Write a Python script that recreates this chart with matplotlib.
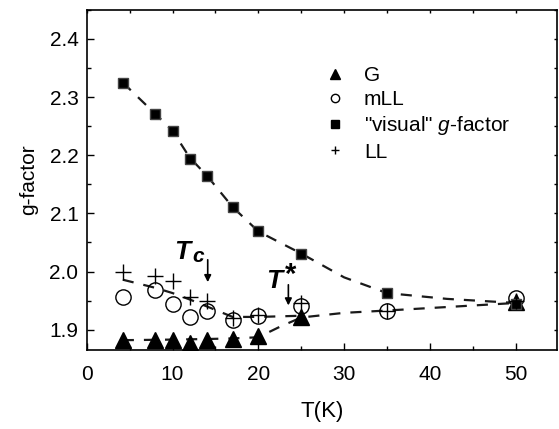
import matplotlib
matplotlib.use("Agg")
import matplotlib.pyplot as plt
from matplotlib.ticker import MultipleLocator, FormatStrFormatter
from matplotlib.lines import Line2D

plt.rcParams['font.family'] = ['Liberation Sans', 'DejaVu Sans']
plt.rcParams['mathtext.fontset'] = 'custom'
plt.rcParams['mathtext.it'] = 'Liberation Sans:italic'
plt.rcParams['mathtext.rm'] = 'Liberation Sans'

# data
T = [4.2, 8, 10, 12, 14, 17, 20, 25, 35, 50]
g_visual = [2.325, 2.271, 2.242, 2.194, 2.165, 2.111, 2.069, 2.031, 1.963, 1.944]
g_G = [1.883, 1.883, 1.883, 1.878, 1.883, 1.884, 1.889, 1.921, None, 1.948]
g_mLL = [1.957, 1.968, 1.945, 1.921, 1.933, 1.917, 1.924, 1.941, 1.933, 1.955]
g_LL = [2.000, 1.992, 1.983, 1.957, 1.950, 1.920, 1.926, 1.946, 1.933, 1.950]

# dashed guide curves
fitG_T = [4.2, 10, 14, 17, 20, 22.5, 25, 30, 35, 42, 50]
fitG_g = [1.882, 1.883, 1.884, 1.885, 1.887, 1.905, 1.921, 1.929, 1.933, 1.939, 1.946]
fitLL_T = [4.2, 8, 10, 12, 14, 17, 20, 25]
fitLL_g = [1.986, 1.972, 1.963, 1.952, 1.940, 1.922, 1.922, 1.924]
fitV_T = [4.2, 8, 10, 12, 14, 17, 20, 25, 30, 35, 42, 50]
fitV_g = [2.325, 2.271, 2.242, 2.196, 2.165, 2.111, 2.069, 2.031, 1.990, 1.963, 1.953, 1.946]

fig = plt.figure(figsize=(5.59, 4.29), dpi=100)
ax = fig.add_axes([0.1552, 0.184, 0.8418, 0.793])

dash = dict(color='#1a1a1a', lw=1.6, dashes=(5, 4.5), zorder=2)
ax.plot(fitV_T, fitV_g, **dash)
ax.plot(fitG_T, fitG_g, **dash)
ax.plot(fitLL_T, fitLL_g, **dash)

TG = [t for t, v in zip(T, g_G) if v is not None]
GG = [v for v in g_G if v is not None]
ax.plot(TG, GG, ls='none', marker='^', ms=12, mfc='black', mec='black', zorder=3)
ax.plot(T, g_mLL, ls='none', marker='o', ms=11, mfc='none', mec='black', mew=1.0, zorder=4)
ax.plot(T, g_visual, ls='none', marker='s', ms=7.5, mfc='black', mec='#444444', zorder=5)
ax.plot(T, g_LL, ls='none', marker='+', ms=11, mec='black', mew=1.0, zorder=6)

ax.set_xlim(0, 54.85)
ax.set_ylim(1.865, 2.45)
ax.xaxis.set_major_locator(MultipleLocator(10))
ax.xaxis.set_minor_locator(MultipleLocator(5))
ax.yaxis.set_major_locator(MultipleLocator(0.1))
ax.yaxis.set_minor_locator(MultipleLocator(0.05))
ax.tick_params(which='major', direction='in', length=5, width=1, labelsize=15)
ax.tick_params(which='minor', direction='in', length=3, width=1)
ax.tick_params(axis='x', which='major', pad=11)
ax.tick_params(axis='y', which='major', pad=6)
ax.tick_params(which='both', top=True, right=True, labeltop=False, labelright=False)
for s in ax.spines.values():
    s.set_linewidth(1.2)
for t in ax.xaxis.get_major_ticks() + ax.yaxis.get_major_ticks():
    t.tick2line.set_markersize(2)
for t in ax.xaxis.get_minor_ticks() + ax.yaxis.get_minor_ticks():
    t.tick2line.set_markersize(2)
ax.yaxis.set_major_formatter(FormatStrFormatter('%.1f'))

ax.set_xlabel('T(K)', fontsize=16, labelpad=12)
ax.set_ylabel('g-factor', fontsize=15, labelpad=8)

# annotations
ax.text(11.1, 2.034, 'T', fontsize=19, fontweight='bold', style='italic', ha='center', va='center')
ax.text(12.3, 2.026, 'c', fontsize=15, fontweight='bold', style='italic', ha='left', va='center')
ax.annotate('', xy=(14.1, 1.977), xytext=(14.1, 2.025),
            arrowprops=dict(arrowstyle='-|>', color='black', lw=1.2, mutation_scale=10))
ax.text(21.8, 1.984, 'T', fontsize=19, fontweight='bold', style='italic', ha='center', va='center')
ax.text(23.1, 1.995, '*', fontsize=21, fontweight='bold', ha='left', va='center')
ax.annotate('', xy=(23.5, 1.937), xytext=(23.5, 1.982),
            arrowprops=dict(arrowstyle='-|>', color='black', lw=1.2, mutation_scale=10))

handles = [
    Line2D([], [], ls='none', marker='^', ms=7, mfc='black', mec='black'),
    Line2D([], [], ls='none', marker='o', ms=6, mfc='none', mec='black'),
    Line2D([], [], ls='none', marker='s', ms=5.5, mfc='black', mec='black'),
    Line2D([], [], ls='none', marker='+', ms=6, mec='black'),
]
labels = ['G', 'mLL', '"visual" $g$-factor', 'LL']
leg = ax.legend(handles, labels, loc='upper left', bbox_to_anchor=(0.505, 0.835),
                frameon=False, fontsize=15, handlelength=1.0, handletextpad=0.9,
                labelspacing=0.25, borderaxespad=0, borderpad=0)

fig.savefig('out.png', dpi=100)
